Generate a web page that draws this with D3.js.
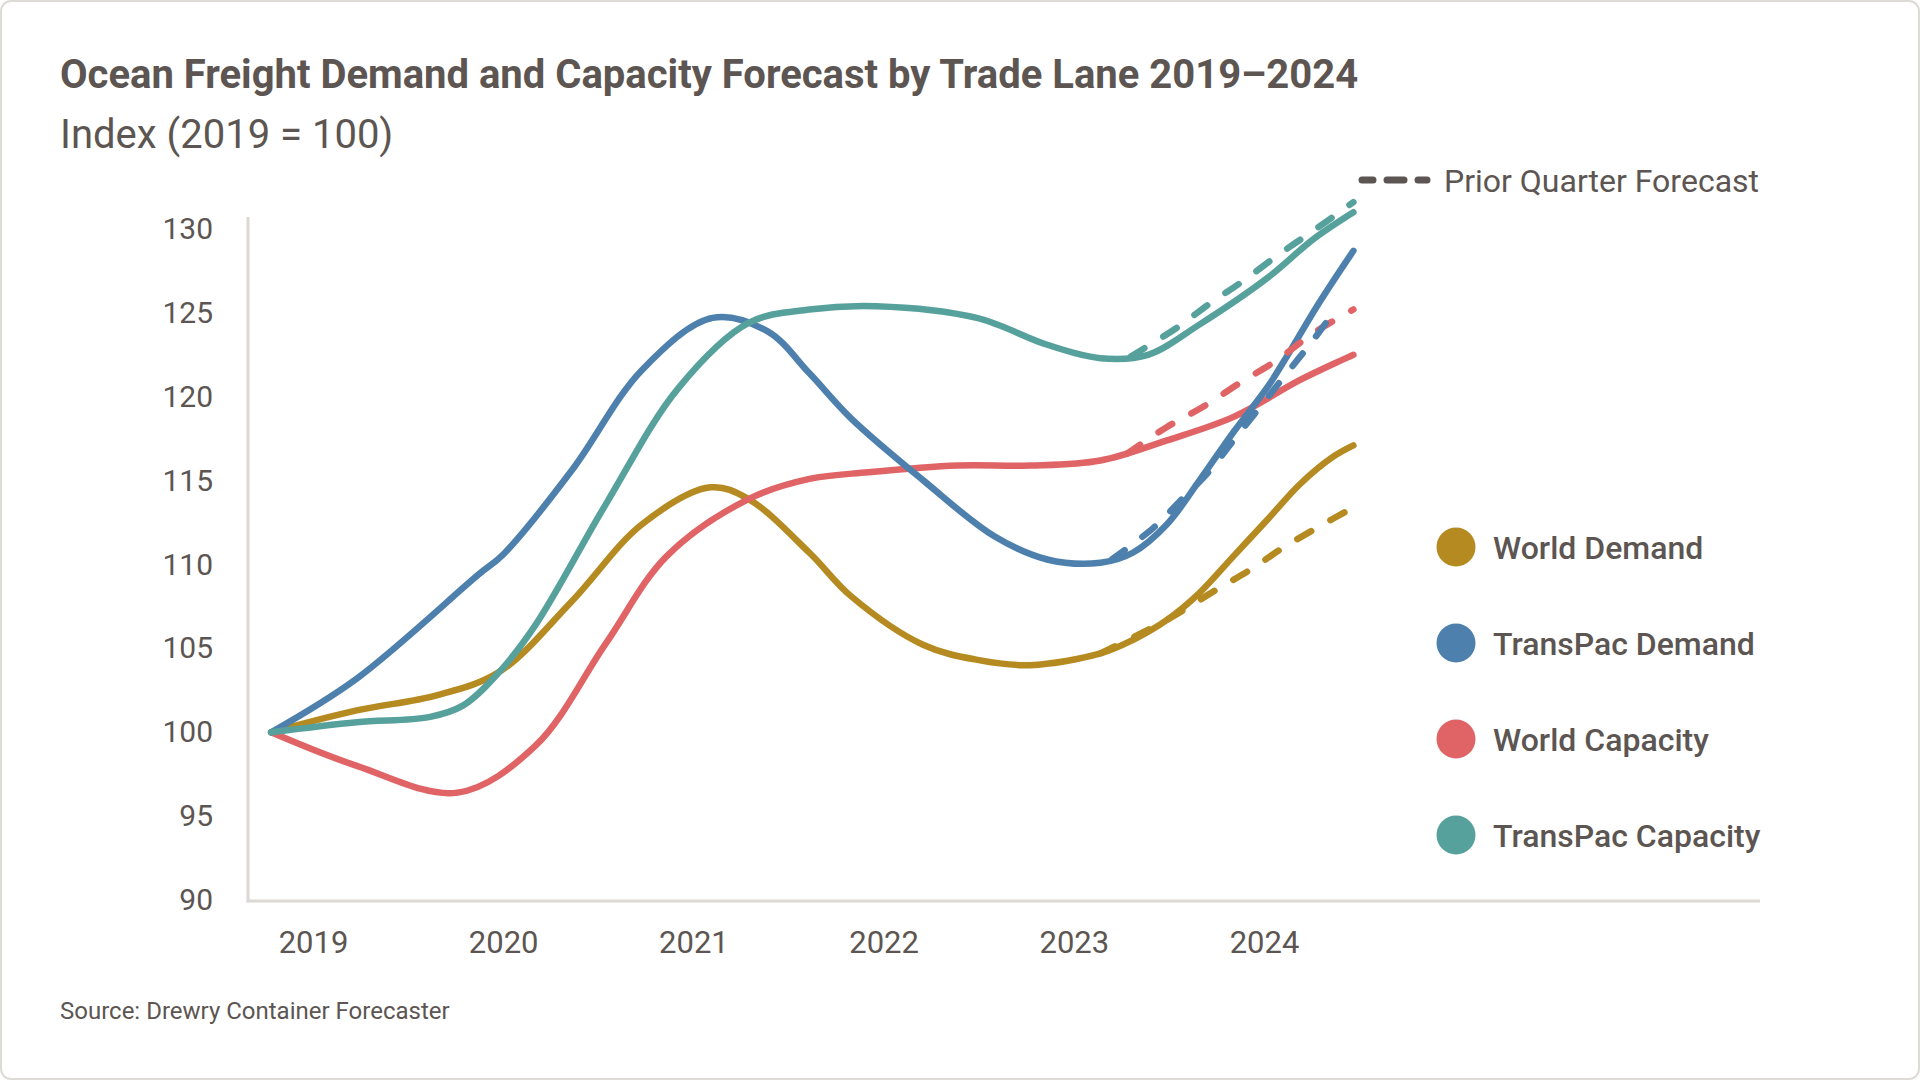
<!DOCTYPE html>
<html>
<head>
<meta charset="utf-8">
<script src="https://cdn.jsdelivr.net/npm/d3@7"></script>
<style>
  html, body { margin: 0; padding: 0; background: #ffffff; }
  svg { display: block; font-family: Roboto, "Noto Sans", sans-serif; }
</style>
</head>
<body>
<svg id="chart" width="1920" height="1080"></svg>
<script>
// ---------------- DATA ----------------
const titleText = "Ocean Freight Demand and Capacity Forecast by Trade Lane 2019–2024";
const subtitleText = "Index (2019 = 100)";
const sourceText = "Source: Drewry Container Forecaster";
const priorLabel = "Prior Quarter Forecast";

const xTickYears = [2019, 2020, 2021, 2022, 2023, 2024];
const yTickValues = [90, 95, 100, 105, 110, 115, 120, 125, 130];

const seriesNames = ["World Demand", "TransPac Demand", "World Capacity", "TransPac Capacity"];
const seriesColors = ["#b58a20", "#4d80ad", "#e06465", "#57a19d"];

// fractional-year positions and index values (2019 = 100)
const worldDemandT = [2018.78, 2019.23, 2019.65, 2019.98, 2020.36, 2020.73, 2021.09, 2021.29, 2021.61, 2021.83, 2022.21, 2022.5, 2022.77, 2023.14, 2023.31, 2023.49, 2023.66, 2023.84, 2024.02, 2024.19, 2024.36, 2024.47];
const worldDemandV = [100, 101.3, 102.2, 103.6, 107.8, 112.4, 114.6, 113.9, 110.7, 108.1, 105.2, 104.3, 104.0, 104.7, 105.5, 106.7, 108.3, 110.5, 112.7, 114.8, 116.4, 117.1];
const worldDemandPriorT = [2023.14, 2023.49, 2023.75, 2023.93, 2024.10, 2024.28, 2024.47];
const worldDemandPriorV = [104.7, 106.7, 108.5, 109.7, 111.0, 112.2, 113.4];

const transPacDemandT = [2018.78, 2019.23, 2019.87, 2020.0, 2020.36, 2020.73, 2021.10, 2021.39, 2021.61, 2021.83, 2022.21, 2022.58, 2022.86, 2023.14, 2023.31, 2023.49, 2023.66, 2023.84, 2024.02, 2024.12, 2024.29, 2024.47];
const transPacDemandV = [100, 103.2, 109.4, 110.6, 115.6, 121.6, 124.7, 123.9, 121.4, 118.7, 115.0, 111.7, 110.3, 110.1, 110.7, 112.4, 115.0, 117.9, 120.6, 122.4, 125.6, 128.7];
const transPacDemandPriorT = [2023.2, 2023.42, 2023.56, 2023.70, 2023.84, 2023.98, 2024.12, 2024.26, 2024.39];
const transPacDemandPriorV = [110.3, 112.2, 113.8, 115.4, 117.4, 119.4, 121.4, 123.4, 125.4];

const worldCapacityT = [2018.78, 2019.23, 2019.76, 2020.17, 2020.54, 2020.86, 2021.29, 2021.61, 2021.92, 2022.39, 2022.77, 2023.14, 2023.49, 2023.84, 2024.19, 2024.47];
const worldCapacityV = [100, 98.0, 96.4, 99.2, 105.3, 110.5, 113.9, 115.1, 115.5, 115.9, 115.9, 116.2, 117.4, 118.8, 121.0, 122.5];
const worldCapacityPriorT = [2023.28, 2023.49, 2023.68, 2023.87, 2024.07, 2024.26, 2024.47];
const worldCapacityPriorV = [116.6, 118.2, 119.4, 120.8, 122.2, 123.8, 125.2];

const transPacCapacityT = [2018.78, 2019.23, 2019.61, 2019.79, 2019.98, 2020.17, 2020.54, 2020.92, 2021.29, 2021.61, 2021.96, 2022.49, 2022.86, 2023.14, 2023.39, 2023.66, 2024.02, 2024.26, 2024.47];
const transPacCapacityV = [100, 100.6, 100.9, 101.6, 103.6, 106.4, 113.6, 120.5, 124.4, 125.2, 125.4, 124.7, 123.1, 122.3, 122.5, 124.3, 127.1, 129.4, 131.0];
const transPacCapacityPriorT = [2023.3, 2023.54, 2023.72, 2023.89, 2024.08, 2024.26, 2024.47];
const transPacCapacityPriorV = [122.4, 124.1, 125.6, 126.9, 128.5, 129.9, 131.6];

// ---------------- BUILD ----------------
const zip = (t, v) => t.map((d, i) => ({ t: d, v: v[i] }));
const series = [
  { name: seriesNames[0], color: seriesColors[0], solid: zip(worldDemandT, worldDemandV), prior: zip(worldDemandPriorT, worldDemandPriorV) },
  { name: seriesNames[1], color: seriesColors[1], solid: zip(transPacDemandT, transPacDemandV), prior: zip(transPacDemandPriorT, transPacDemandPriorV) },
  { name: seriesNames[2], color: seriesColors[2], solid: zip(worldCapacityT, worldCapacityV), prior: zip(worldCapacityPriorT, worldCapacityPriorV) },
  { name: seriesNames[3], color: seriesColors[3], solid: zip(transPacCapacityT, transPacCapacityV), prior: zip(transPacCapacityPriorT, transPacCapacityPriorV) }
];
const drawOrder = [0, 2, 1, 3];

const textColor = "#5c5552";
const axisColor = "#dcd8d4";

const svg = d3.select("#chart");

// card border
svg.append("rect")
  .attr("x", 1).attr("y", 1).attr("width", 1918).attr("height", 1078)
  .attr("rx", 10).attr("fill", "#fff").attr("stroke", "#dedbd7").attr("stroke-width", 2);

// title & subtitle
svg.append("text").attr("x", 60).attr("y", 88)
  .attr("fill", textColor).attr("font-size", 40).attr("font-weight", 700)
  .text(titleText);
svg.append("text").attr("x", 60).attr("y", 148)
  .attr("fill", textColor).attr("font-size", 40).attr("font-weight", 400)
  .text(subtitleText);

// scales
const x = d3.scaleLinear().domain([2019, 2024]).range([313, 1264]);
const y = d3.scaleLinear().domain([90, 130]).range([900, 229]);

const axisLeftX = 248;
const axisBottomY = 901;

// axis lines
svg.append("line").attr("x1", axisLeftX).attr("x2", axisLeftX).attr("y1", 217).attr("y2", axisBottomY + 1.5)
  .attr("stroke", axisColor).attr("stroke-width", 3);
svg.append("line").attr("x1", axisLeftX - 1.5).attr("x2", 1760).attr("y1", axisBottomY).attr("y2", axisBottomY)
  .attr("stroke", axisColor).attr("stroke-width", 3);

// y axis labels
const yAxis = svg.append("g").attr("transform", `translate(${axisLeftX},0)`)
  .call(d3.axisLeft(y).tickValues(yTickValues).tickSize(0).tickPadding(35).tickFormat(d3.format("d")));
yAxis.select(".domain").remove();
yAxis.selectAll("text").attr("fill", textColor).attr("font-size", 30).attr("font-family", "Roboto, sans-serif");

// x axis labels
const xAxis = svg.append("g").attr("transform", `translate(0,${axisBottomY})`)
  .call(d3.axisBottom(x).tickValues(xTickYears).tickSize(0).tickPadding(30).tickFormat(d3.format("d")));
xAxis.select(".domain").remove();
xAxis.selectAll("text").attr("fill", textColor).attr("font-size", 31).attr("font-family", "Roboto, sans-serif");

// lines
const line = d3.line().x(d => x(d.t)).y(d => y(d.v)).curve(d3.curveCatmullRom.alpha(0.5));
const lines = svg.append("g");
drawOrder.forEach(i => {
  const s = series[i];
  lines.append("path").attr("d", line(s.solid))
    .attr("fill", "none").attr("stroke", s.color).attr("stroke-width", 6.5)
    .attr("stroke-linecap", "round").attr("stroke-linejoin", "round");
});
drawOrder.forEach(i => {
  const s = series[i];
  lines.append("path").attr("d", line(s.prior))
    .attr("fill", "none").attr("stroke", s.color).attr("stroke-width", 6.5)
    .attr("stroke-linecap", "round").attr("stroke-dasharray", "16 22");
});

// prior quarter forecast legend
svg.append("line").attr("x1", 1362).attr("x2", 1427).attr("y1", 180).attr("y2", 180)
  .attr("stroke", "#5c5552").attr("stroke-width", 7).attr("stroke-linecap", "round")
  .attr("stroke-dasharray", "11 14 17 14 11");
svg.append("text").attr("x", 1444).attr("y", 180).attr("dy", "0.36em")
  .attr("fill", textColor).attr("font-size", 32).text(priorLabel);

// series legend
const legendY = d3.scalePoint().domain(seriesNames).range([547, 835]);
const lg = svg.append("g");
series.forEach(s => {
  lg.append("circle").attr("cx", 1456).attr("cy", legendY(s.name)).attr("r", 19.5).attr("fill", s.color);
  lg.append("text").attr("x", 1493).attr("y", legendY(s.name)).attr("dy", "0.36em")
    .attr("fill", textColor).attr("font-size", 32).attr("font-weight", 500).text(s.name);
});

// source
svg.append("text").attr("x", 60).attr("y", 1019)
  .attr("fill", textColor).attr("font-size", 24).text(sourceText);
</script>
</body>
</html>
